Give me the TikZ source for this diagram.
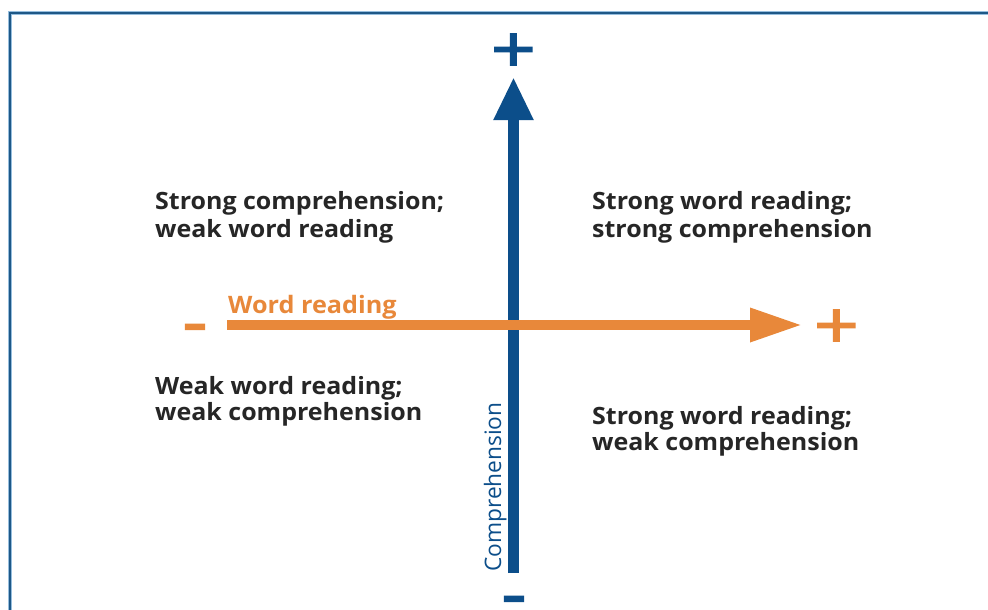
\documentclass[tikz,border=0pt]{standalone}
\usepackage{fontspec}
\setmainfont{Open Sans}
\newfontfamily\quadfont{Open Sans}[FakeStretch=1.05]
\newfontfamily\axisfont{Open Sans}
\newfontfamily\signfont{Open Sans}[FakeStretch=1.23, FakeBold=2.5]
\usetikzlibrary{arrows.meta}

\definecolor{axisblue}{RGB}{12,78,138}
\definecolor{axisorange}{RGB}{232,136,58}
\definecolor{framedark}{RGB}{30,88,135}
\definecolor{framelight}{RGB}{150,190,222}

% minus sign in a tight box centred on the bar
\newcommand{\barminus}{\raisebox{-19pt}[3.5pt][3.5pt]{-}}

\begin{document}
\begin{tikzpicture}[x=1pt, y=-1pt,
	quad/.style={anchor=base west, align=left, inner sep=0pt, text=black!85, font=\quadfont\bfseries\fontsize{23.8}{28}\selectfont},
	sign/.style={inner sep=0pt, font=\signfont\fontsize{64}{64}\selectfont}]
		\clip (0,0) rectangle (988,610);
		\fill[white] (0,0) rectangle (988,610);
		
		% Frame
		\draw[framelight, line width=4.5pt] (10,13) rectangle (1010,640);
		\draw[framedark, line width=2pt] (10,13) rectangle (1010,640);
		
		% Comprehension axis
		\coordinate (cbot) at (513.5,573);
		\coordinate (ctop) at (513.5,77);
		\draw[axisblue, line width=11pt, -{Triangle[length=43pt, width=37pt]}] (cbot) -- (ctop);
		\node[sign, text=axisblue] (cplus) at (513.5,53) {+};
		\node[sign, text=axisblue] (cminus) at (514,597) {\barminus};
		\node[axisblue, rotate=90, anchor=base west, inner sep=0pt, font=\axisfont\fontsize{22.7}{24}\selectfont] (clabel) at (501,572) {Comprehension};
		
		% Word reading axis
		\coordinate (wleft) at (227,325);
		\coordinate (wright) at (802,325);
		\draw[axisorange, line width=9.5pt, -{Triangle[length=52pt, width=32pt]}] (wleft) -- (wright);
		\node[sign, text=axisorange] (wplus) at (836.5,329) {+};
		\node[sign, text=axisorange] (wminus) at (195,325) {\barminus};
		\node[axisorange, anchor=base west, inner sep=0pt, font=\quadfont\bfseries\fontsize{24}{26}\selectfont] (wlabel) at (228,313) {Word reading};
		
		% Quadrants (anchored on the baseline of the last line)
		\node[quad] (ul) at (155,237) {Strong comprehension;\\weak word reading};
		\node[quad] (ur) at (592,237) {Strong word reading;\\strong comprehension};
		\node[quad, font=\quadfont\bfseries\fontsize{23.8}{25.5}\selectfont] (ll) at (155,420) {Weak word reading;\\weak comprehension};
		\node[quad, font=\quadfont\bfseries\fontsize{23.8}{25.5}\selectfont] (lr) at (592,450) {Strong word reading;\\weak comprehension};
		
	\end{tikzpicture}
\end{document}
